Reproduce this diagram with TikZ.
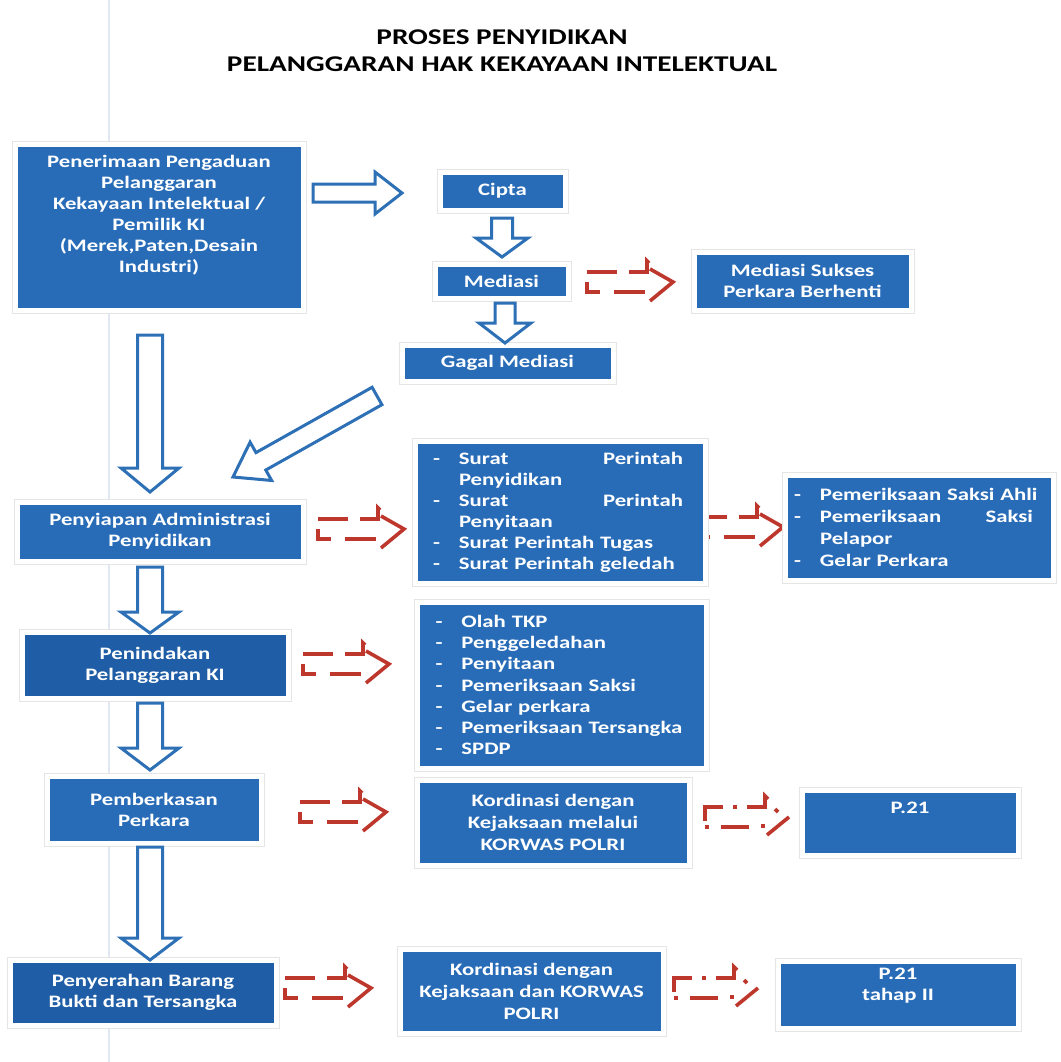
\documentclass[tikz,border=0pt]{standalone}
\usepackage{fontspec}
\setmainfont{Carlito}[FakeStretch=1.3]
\usetikzlibrary{calc,shadows}
\definecolor{boxblue}{RGB}{40,108,184}
\definecolor{boxdark}{RGB}{31,94,166}
\definecolor{arrblue}{RGB}{46,112,182}
\definecolor{arrred}{RGB}{190,55,45}
\definecolor{scanline}{RGB}{225,232,242}
\newcommand\bxfont{\fontsize{17.5}{21}\selectfont\bfseries}
\newcommand\bxfontk{\fontsize{17.5}{22}\selectfont\bfseries}
\newcommand\ttlfont{\fontsize{22.5}{27}\selectfont\bfseries}
\newcommand\dl[1]{\mbox{\makebox[26pt][l]{-}#1}}
\newcommand\cl[1]{\mbox{\hspace*{26pt}#1}}
\tikzset{
  box/.style={rectangle, fill=boxblue, draw=white, line width=5pt,
    preaction={draw=black!10, line width=7pt},
    drop shadow={shadow xshift=1.5pt, shadow yshift=-2pt, opacity=0.22},
    text=white, font=\bxfont, align=center, inner sep=0pt, outer sep=0pt,
    anchor=north west},
  btext/.style={text=white, font=\bxfont, align=center, inner sep=0pt},
  hollow/.style={draw=arrblue, line width=3pt, fill=white, line join=miter},
  redl/.style={draw=arrred, line width=3.6pt, line cap=butt, line join=miter},
  redarr/.pic={
    \draw[redl] (0,-10)--(30,-10);
    \draw[redl] (42,-10)--(60,-10)--(60,-21)--(62,-19);
    \draw[redl] (63,-13)--(86,0)--(63,19);
    \draw[redl] (58,10)--(27,10);
    \draw[redl] (13,10)--(0,10)--(0,0);
  },
  reddot/.pic={
    \draw[redl] (0,4)--(0,-10)--(18,-10);
    \draw[redl] (28,-10)--(32,-10);
    \draw[redl] (42,-10)--(60,-10)--(60,-21)--(63,-18);
    \draw[redl] (70,-8)--(73,-5);
    \draw[redl] (0,10)--(4,10);
    \draw[redl] (16,10)--(44,10);
    \draw[redl] (56,9)--(60,9);
    \draw[redl] (62,18)--(84,0);
  }
}
% box: name, x1, y1, x2, y2, text
\newcommand\mkbox[7][]{\node[box,#1,minimum width={(#5-#3)*1pt},minimum height={(#6-#4)*1pt}] (#2) at (#3,#4) {#7};}
% hollow block arrow: start, end, shaft half width, head half width, head length
\newcommand\harrow[5]{%
  \coordinate (hb) at ($(#2)!#5!(#1)$);
  \draw[hollow] ($(#1)!#3!90:(#2)$) -- ($(hb)!#3!90:(#2)$) -- ($(hb)!#4!90:(#2)$) -- (#2)
    -- ($(hb)!#4!-90:(#2)$) -- ($(hb)!#3!-90:(#2)$) -- ($(#1)!#3!-90:(#2)$) -- cycle;}
\begin{document}
\begin{tikzpicture}[x=1pt,y=-1pt]
\useasboundingbox (0,0) rectangle (1060,1062);
\fill[white] (0,0) rectangle (1060,1062);
\draw[scanline, line width=1.2pt] (109,0) -- (109,1062);

% title
\node[font=\ttlfont, align=center, inner sep=0pt] (title) at (502,51) {PROSES PENYIDIKAN\\PELANGGARAN HAK KEKAYAAN INTELEKTUAL};

% red dashed arrows (drawn first)
\coordinate (r1) at (587,282);
\coordinate (r2) at (318,529);
\coordinate (r3) at (697,527);
\coordinate (r4) at (303,664);
\coordinate (r5) at (300,812);
\coordinate (r6) at (705,817);
\coordinate (r7) at (285,988);
\coordinate (r8) at (674,988);
\pic at (r1) {redarr};
\pic at (r2) {redarr};
\pic at (r3) {redarr};
\pic at (r4) {redarr};
\pic at (r5) {redarr};
\pic at (r6) {reddot};
\pic at (r7) {redarr};
\pic at (r8) {reddot};

% boxes
\mkbox{b1}{15}{144}{303}{310}{}
\node[btext] (b1t) at (159,215) {Penerimaan Pengaduan\\Pelanggaran\\Kekayaan Intelektual /\\Pemilik KI\\(Merek,Paten,Desain\\Industri)};
\mkbox{cip}{440}{172}{565}{210}{Cipta}
\mkbox{med}{435}{264}{568}{298}{Mediasi}
\mkbox{suk}{694}{252}{911}{310}{Mediasi Sukses\\Perkara Berhenti}
\mkbox{gag}{402}{345}{613}{381}{Gagal Mediasi}
\mkbox{adm}{17}{502}{303}{561}{Penyiapan Administrasi\\Penyidikan}
\mkbox[align=left, text width=254pt, font=\fontsize{17.5}{21}\selectfont\bfseries]{sur}{415}{441}{705}{583}{%
\dl{\hbox to 224pt{Surat\hfill Perintah}}\\
\cl{Penyidikan}\\
\dl{\hbox to 224pt{Surat\hfill Perintah}}\\
\cl{Penyitaan}\\
\dl{Surat Perintah Tugas}\\
\dl{Surat Perintah geledah}}
\mkbox[align=left, text width=250pt, font=\fontsize{17.5}{22}\selectfont\bfseries]{sak}{785}{475}{1053}{580}{%
\dl{Pemeriksaan Saksi Ahli}\\
\dl{\hbox to 213pt{Pemeriksaan\hfill Saksi}}\\
\cl{Pelapor}\\
\dl{Gelar Perkara}}
\mkbox[fill=boxdark]{pen}{22}{632}{288}{698}{Penindakan\\Pelanggaran KI}
\mkbox[align=left, text width=252pt, font=\fontsize{17.5}{21.2}\selectfont\bfseries]{olah}{417}{602}{706}{768}{%
\dl{Olah TKP}\\
\dl{Penggeledahan}\\
\dl{Penyitaan}\\
\dl{Pemeriksaan Saksi}\\
\dl{Gelar perkara}\\
\dl{Pemeriksaan Tersangka}\\
\dl{SPDP}}
\mkbox{ber}{47}{776}{261}{843}{Pemberkasan\\Perkara}
\mkbox[font=\bxfontk]{kor1}{417}{780}{689}{865}{Kordinasi dengan\\Kejaksaan melalui\\KORWAS POLRI}
\mkbox{p21}{802}{790}{1018}{855}{}
\node[btext] (p21t) at (910,808) {P.21};
\mkbox[fill=boxdark]{ser}{10}{960}{276}{1025}{Penyerahan Barang\\Bukti dan Tersangka}
\mkbox[font=\bxfontk]{kor2}{400}{949}{663}{1033}{Kordinasi dengan\\Kejaksaan dan KORWAS\\POLRI}
\mkbox{p21b}{778}{961}{1018}{1028}{}
\node[btext] (p21bt) at (898,986) {P.21\\tahap II};

% hollow blue arrows
\coordinate (a1s) at (313,193);  \coordinate (a1e) at (402,193);
\coordinate (a2s) at (502,218);  \coordinate (a2e) at (502,257);
\coordinate (a3s) at (505,303);  \coordinate (a3e) at (505,343);
\coordinate (a4s) at (150,335);  \coordinate (a4e) at (150,492);
\coordinate (a5s) at (377,396);  \coordinate (a5e) at (233,477);
\coordinate (a6s) at (150,567);  \coordinate (a6e) at (150,633);
\coordinate (a7s) at (150,703);  \coordinate (a7e) at (150,770);
\coordinate (a8s) at (150,847);  \coordinate (a8e) at (150,960);
\harrow{a1s}{a1e}{9pt}{21pt}{27pt}
\harrow{a2s}{a2e}{10.5pt}{26pt}{19pt}
\harrow{a3s}{a3e}{10pt}{26pt}{20pt}
\harrow{a4s}{a4e}{12.5pt}{29pt}{24pt}
\harrow{a5s}{a5e}{10pt}{22pt}{32pt}
\harrow{a6s}{a6e}{12.5pt}{29pt}{21pt}
\harrow{a7s}{a7e}{12.5pt}{29pt}{22pt}
\harrow{a8s}{a8e}{12.5pt}{29pt}{22pt}
\end{tikzpicture}
\end{document}
